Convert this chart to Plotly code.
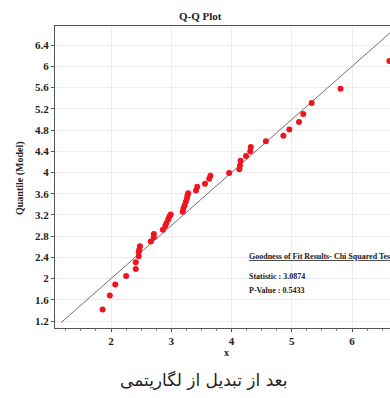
import plotly.graph_objects as go

x_vals = [1.86, 1.98, 2.07, 2.25, 2.41, 2.41, 2.46, 2.46, 2.47, 2.48, 2.66, 2.71, 2.71,
          2.86, 2.90, 2.92, 2.95, 2.97, 2.99, 3.19, 3.20, 3.22, 3.24, 3.26, 3.27, 3.28,
          3.41, 3.43, 3.56, 3.63, 3.65, 3.96, 4.13, 4.14, 4.15, 4.24, 4.31, 4.32, 4.57,
          4.86, 4.96, 5.12, 5.19, 5.33, 5.81, 6.62]
y_vals = [1.42, 1.68, 1.89, 2.05, 2.18, 2.31, 2.42, 2.50, 2.55, 2.61, 2.70, 2.78, 2.84,
          2.92, 2.99, 3.05, 3.12, 3.17, 3.21, 3.26, 3.32, 3.38, 3.45, 3.51, 3.57, 3.61,
          3.66, 3.73, 3.79, 3.88, 3.94, 3.99, 4.06, 4.13, 4.22, 4.31, 4.40, 4.48, 4.59,
          4.69, 4.81, 4.95, 5.10, 5.31, 5.58, 6.10]
ref_line = [1.17, 6.9]
y_ticks = [1.2, 1.6, 2, 2.4, 2.8, 3.2, 3.6, 4, 4.4, 4.8, 5.2, 5.6, 6, 6.4]
x_ticks = [2, 3, 4, 5, 6]

serif = "Liberation Serif"

fig = go.Figure()
fig.add_trace(go.Scatter(x=ref_line, y=ref_line, mode="lines",
                         line=dict(color="#707070", width=1), showlegend=False))
fig.add_trace(go.Scatter(x=x_vals, y=y_vals, mode="markers",
                         marker=dict(color="#f0141e", size=6), showlegend=False))

fig.update_layout(
    width=390, height=398,
    margin=dict(l=55, r=0, t=26, b=70),
    paper_bgcolor="white", plot_bgcolor="white",
    xaxis=dict(range=[1.07, 6.63], tickvals=x_ticks, ticktext=[str(t) for t in x_ticks],
               showgrid=True, gridcolor="#ececec", gridwidth=1, zeroline=False,
               showline=True, linecolor="#555555", linewidth=1, mirror=True,
               ticks="outside", ticklen=3, tickcolor="#555555",
               minor=dict(dtick=0.25, ticks="outside", ticklen=2, tickcolor="#888888", showgrid=False),
               tickfont=dict(family=serif, size=11, color="#222222", weight="bold")),
    yaxis=dict(range=[1.07, 6.76], tickvals=y_ticks, ticktext=[f"{t:g}" for t in y_ticks],
               showgrid=True, gridcolor="#ececec", gridwidth=1, zeroline=False,
               showline=True, linecolor="#555555", linewidth=1, mirror=True,
               ticks="outside", ticklen=3, tickcolor="#555555",
               tickfont=dict(family=serif, size=11, color="#222222", weight="bold")),
    annotations=[
        dict(text="<b>Q-Q Plot</b>", xref="paper", yref="paper", x=(200 - 55) / 335, y=1 + 10 / 302,
             showarrow=False, font=dict(family=serif, size=11, color="#222222"),
             xanchor="center", yanchor="middle"),
        dict(text="<b>Quantile (Model)</b>", xref="paper", yref="paper", x=-35 / 335, y=(328 - 178) / 302,
             textangle=-90, showarrow=False, font=dict(family=serif, size=10, color="#222222"),
             xanchor="center", yanchor="middle"),
        dict(text="<b>x</b>", xref="paper", yref="paper", x=(226 - 55) / 335, y=-24 / 302,
             showarrow=False, font=dict(family=serif, size=10, color="#222222"),
             xanchor="center", yanchor="middle"),
        dict(text="<b><u>Goodness of Fit Results- Chi Squared Test</u></b>", xref="paper", yref="paper",
             x=(247 - 55) / 335, y=(328 - 256) / 302, showarrow=False,
             font=dict(family=serif, size=8, color="#222222"), xanchor="left", yanchor="middle"),
        dict(text="<b>Statistic : 3.0874</b>", xref="paper", yref="paper",
             x=(247 - 55) / 335, y=(328 - 276) / 302, showarrow=False,
             font=dict(family=serif, size=8, color="#222222"), xanchor="left", yanchor="middle"),
        dict(text="<b>P-Value : 0.5433</b>", xref="paper", yref="paper",
             x=(247 - 55) / 335, y=(328 - 290) / 302, showarrow=False,
             font=dict(family=serif, size=8, color="#222222"), xanchor="left", yanchor="middle"),
        dict(text="بعد از تبدیل از لگاریتمی", xref="paper", yref="paper",
             x=(204 - 55) / 335, y=-52 / 302, showarrow=False,
             font=dict(family="DejaVu Sans", size=17, color="#222222"),
             xanchor="center", yanchor="middle"),
    ],
)

fig.write_html("out.html")
